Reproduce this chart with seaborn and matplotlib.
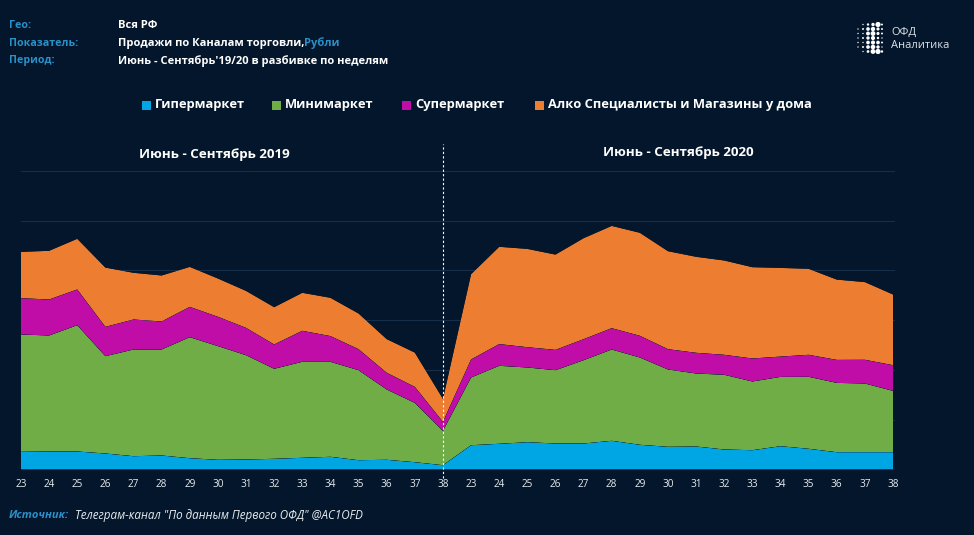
import numpy as np
import pandas as pd
import matplotlib
matplotlib.use("Agg")
import matplotlib.pyplot as plt
from matplotlib.patches import Rectangle
import seaborn as sns
import seaborn.objects as so

weeks = [23, 24, 25, 26, 27, 28, 29, 30, 31, 32, 33, 34, 35, 36, 37, 38]
tick_labels = weeks + weeks

hyper = [17.7, 18, 18, 16, 13.3, 14, 11.3, 9.7, 10, 10.7, 11.7, 12.7, 9.3, 9.7, 7.3, 4.3,
         24.3, 25.7, 27.3, 26, 26, 28.7, 24.7, 22.7, 23, 20, 19.3, 23.3, 20.7, 17.3, 17.3, 17.3]
mini = [117.3, 116, 126.3, 97.3, 106.7, 106, 121, 113.7, 104.3, 90, 96, 95, 90, 70.3, 59.3, 34.3,
        67.7, 78, 74.7, 73.3, 83.3, 91.3, 87.3, 77.3, 73, 74.7, 68.7, 69.3, 72, 69.3, 68.7, 61.3]
super_ = [36.3, 36, 35.7, 29.3, 30, 28, 30.3, 29.3, 27.3, 24.3, 31, 25.7, 21, 16.7, 16, 9,
          18, 21.7, 20.3, 20.3, 21, 21.3, 21.7, 20.3, 20.7, 20, 23, 20.3, 22, 23, 23.7, 25.7]
alco = [46.3, 48.7, 50.7, 59.3, 46.7, 46, 40, 38.3, 37, 37.3, 38, 38.3, 35.7, 33.7, 34.3, 23,
        85.3, 97.3, 98.3, 95.3, 101, 102.3, 103, 98, 96, 94.3, 91.3, 88.7, 86, 80.3, 77.7, 70.7]

channels = ["Гипермаркет", "Минимаркет", "Супермаркет", "Алко Специалисты и Магазины у дома"]
colors = ["#00A6E4", "#70AD47", "#C00DA8", "#ED7D31"]

BG = "#03162B"
BLUE_TXT = "#2A90C8"
W, H = 974, 535

sns.set_theme(style="dark", rc={"axes.facecolor": BG, "figure.facecolor": BG})
plt.rcParams["font.family"] = ["Open Sans", "DejaVu Sans"]


def put(x, y, s, **kw):
    # text placed in reference pixels, y from the top
    kw.setdefault("color", "white")
    kw.setdefault("va", "center")
    return fig.text(x / W, 1 - y / H, s, **kw)


fig = plt.figure(figsize=(9.74, 5.35), dpi=100, facecolor=BG)
ax = fig.add_axes([21 / W, 1 - 469.5 / H, (895 - 21) / W, (469.5 - 171) / H])

pos = np.arange(len(tick_labels))
df = pd.DataFrame({"pos": pos, "hyper": hyper, "mini": mini, "super": super_, "alco": alco})
df = df.rename(columns=dict(zip(["hyper", "mini", "super", "alco"], channels)))
df = df.melt(id_vars="pos", var_name="channel", value_name="value")

(
    so.Plot(df, x="pos", y="value", color="channel")
    .add(so.Area(alpha=1, edgewidth=0), so.Stack(), legend=False)
    .scale(color=so.Nominal(dict(zip(channels, colors)), order=channels))
    .theme({"axes.facecolor": BG, "figure.facecolor": BG})
    .on(ax)
    .plot()
)

ax.set_facecolor(BG)
ax.set_xlim(0, 31.07)
ax.set_ylim(0, 298.5)
ax.set_xticks(pos)
ax.set_xticklabels(tick_labels, fontsize=7.2, color="#E8ECF0")
ax.set_yticks(np.linspace(0, 298.5, 7))
ax.set_yticklabels([])
ax.set_xlabel("")
ax.set_ylabel("")
ax.tick_params(axis="both", length=0, pad=7)
ax.grid(False)
ax.grid(axis="y", color="#172E4A", lw=0.8)
ax.set_axisbelow(True)
sns.despine(ax=ax, left=True, bottom=True, top=True, right=True)

# divider between the two seasons
ax.axvline(15, ymin=-0.03, ymax=1.09, color="white", lw=0.8, ls=(0, (2, 2)), clip_on=False, zorder=5)

# header block
for y, s in zip([26, 43.5, 61], ["Гео:", "Показатель:", "Период:"]):
    put(9, y, s, color=BLUE_TXT, fontsize=7.7, fontweight="bold")
put(118, 26, "Вся РФ", fontsize=8, fontweight="bold")
put(118, 43.5, "Продажи по Каналам торговли,", fontsize=8, fontweight="bold")
put(304, 43.5, "Рубли", color=BLUE_TXT, fontsize=8, fontweight="bold")
put(118, 61, "Июнь - Сентябрь'19/20 в разбивке по неделям", fontsize=8, fontweight="bold")

# legend, laid out by hand to hit the reference spacing
for sx, name, c in zip([142, 272, 402, 535], channels, colors):
    fig.add_artist(Rectangle((sx / W, 1 - 109.5 / H), 9 / W, 9 / H, transform=fig.transFigure,
                             facecolor=c, edgecolor="none"))
    put(sx + 13, 104.5, name, fontsize=9.3, fontweight="bold")

put(214, 155, "Июнь - Сентябрь 2019", fontsize=9.6, fontweight="bold", ha="center")
put(678, 152.5, "Июнь - Сентябрь 2020", fontsize=9.6, fontweight="bold", ha="center")

# source
put(9, 516, "Источник:", color=BLUE_TXT, fontsize=8, fontweight="bold", style="italic")
put(75, 516, "Телеграм-канал \"По данным Первого ОФД\" @AC1OFD", color="#E8ECF0", fontsize=8.4, style="italic")

# logo
logo_ax = fig.add_axes([855 / W, 1 - 55 / H, 30 / W, 33 / H])
logo_ax.set_axis_off()
logo_ax.set_xlim(855, 885)
logo_ax.set_ylim(55, 22)
cols = [858, 863, 868, 873, 878, 882]
rows = [24.5, 29, 33.5, 38, 42.5, 47, 51.5]
sizes = [[0, 1, 3, 6, 14, 2], [1, 2, 7, 10, 5, 2], [1, 1, 8, 12, 5, 2], [1, 2, 6, 9, 3, 1],
         [1, 1, 7, 9, 7, 2], [1, 2, 7, 11, 6, 1], [0, 1, 4, 12, 14, 3]]
for r, row in zip(rows, sizes):
    logo_ax.scatter(cols, [r] * len(cols), s=row, color="white", linewidths=0)
put(891, 32, "ОФД", color="#DDE3EA", fontsize=8)
put(891, 45, "Аналитика", color="#DDE3EA", fontsize=8)

fig.savefig("out.png", dpi=100, facecolor=BG)
